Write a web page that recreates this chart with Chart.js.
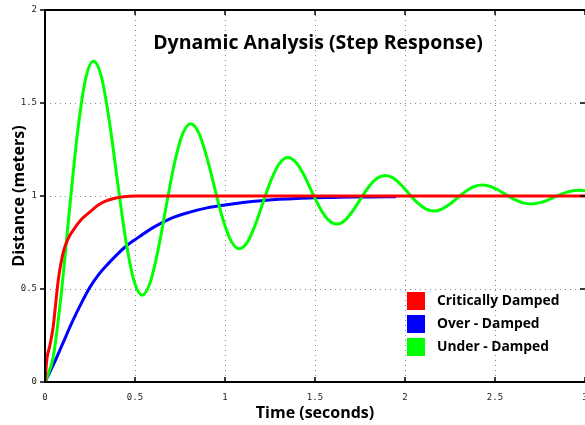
<!DOCTYPE html>
<html>
<head>
<meta charset="utf-8">
<script src="https://cdn.jsdelivr.net/npm/chart.js@4.4.0/dist/chart.umd.min.js"></script>
<style>
  html, body { margin: 0; padding: 0; background: #fff; overflow: hidden; }
  #wrap { width: 585px; height: 425px; position: relative; }
</style>
</head>
<body>
<div id="wrap"><canvas id="chart"></canvas></div>
<script>
const chartTitle = 'Dynamic Analysis (Step Response)'
const xTitle = 'Time (seconds)'
const yTitle = 'Distance (meters)'
const seriesNames = ['Critically Damped', 'Over - Damped', 'Under - Damped']
const seriesColors = ['#ff0000', '#0000ff', '#00ff00']
const xTicks = [0, 0.5, 1, 1.5, 2, 2.5, 3]
const yTicks = [0, 0.5, 1, 1.5, 2]

// critically damped
const critT = [0, 0.01, 0.028, 0.046, 0.055, 0.074, 0.102, 0.13, 0.157, 0.204, 0.25, 0.296, 0.343, 0.389, 0.435, 0.5, 3]
const critY = [0, 0.12, 0.2, 0.3, 0.38, 0.55, 0.7, 0.774, 0.817, 0.876, 0.915, 0.952, 0.975, 0.988, 0.996, 1.0, 1.0]

// over damped
const overT = [0, 0.05, 0.1, 0.15, 0.2, 0.25, 0.3, 0.35, 0.4, 0.45, 0.5, 0.6, 0.7, 0.8, 0.9, 1.0, 1.1, 1.2, 1.3, 1.4, 1.5, 1.6, 1.7, 1.8, 1.95]
const overY = [0, 0.1, 0.21, 0.32, 0.42, 0.51, 0.58, 0.635, 0.685, 0.73, 0.765, 0.83, 0.88, 0.912, 0.936, 0.952, 0.965, 0.975, 0.982, 0.987, 0.99, 0.992, 0.994, 0.995, 0.996]

// under damped
const underT = [0, 0.045, 0.09, 0.135, 0.18, 0.225, 0.27, 0.315, 0.36, 0.405, 0.45, 0.495,
  0.54, 0.585, 0.63, 0.675, 0.72, 0.765, 0.81, 0.855, 0.9, 0.945, 0.99, 1.035,
  1.08, 1.125, 1.17, 1.215, 1.26, 1.305, 1.35, 1.395, 1.44, 1.485, 1.53, 1.575,
  1.62, 1.665, 1.71, 1.755, 1.8, 1.845, 1.89, 1.935, 1.98, 2.025, 2.07, 2.115,
  2.16, 2.205, 2.25, 2.295, 2.34, 2.385, 2.43, 2.475, 2.52, 2.565, 2.61, 2.655,
  2.7, 2.745, 2.79, 2.835, 2.88, 2.925, 2.97, 3.015]
const underY = [0, 0.131, 0.472, 0.915, 1.335, 1.628, 1.725, 1.635, 1.386, 1.062, 0.755, 0.542,
  0.467, 0.537, 0.719, 0.954, 1.179, 1.335, 1.389, 1.338, 1.205, 1.033, 0.870, 0.756,
  0.716, 0.753, 0.850, 0.976, 1.095, 1.178, 1.207, 1.180, 1.110, 1.018, 0.931, 0.870,
  0.849, 0.868, 0.920, 0.987, 1.051, 1.095, 1.110, 1.096, 1.058, 1.009, 0.963, 0.931,
  0.919, 0.930, 0.957, 0.993, 1.027, 1.051, 1.059, 1.051, 1.031, 1.005, 0.980, 0.963,
  0.957, 0.963, 0.977, 0.996, 1.014, 1.027, 1.031, 1.027]

const pts = (ts, ys) => ts.map((t, i) => ({ x: t, y: ys[i] }))
const line = (label, data, color, order) => ({
  label, data, borderColor: color, backgroundColor: color, borderWidth: 3,
  pointRadius: 0, cubicInterpolationMode: 'monotone', order
})

const frame = {
  id: 'frame',
  afterDatasetsDraw(chart) {
    const { ctx, chartArea: a, scales } = chart
    ctx.save()
    ctx.strokeStyle = '#000'
    ctx.lineWidth = 2
    ctx.beginPath()
    ctx.moveTo(a.left, a.top); ctx.lineTo(a.right + 2, a.top)
    ctx.moveTo(a.left, a.top - 1); ctx.lineTo(a.left, a.bottom + 1)
    ctx.moveTo(a.left - 1, a.bottom); ctx.lineTo(a.right + 2, a.bottom)
    ctx.stroke()
    ctx.lineWidth = 1.5
    ctx.beginPath()
    xTicks.forEach(v => {
      const px = scales.x.getPixelForValue(v)
      ctx.moveTo(px, a.bottom); ctx.lineTo(px, a.bottom - 5)
      ctx.moveTo(px, a.top); ctx.lineTo(px, a.top + 5)
    })
    yTicks.forEach(v => {
      const py = scales.y.getPixelForValue(v)
      ctx.moveTo(a.left - 5, py); ctx.lineTo(a.left, py)
      ctx.moveTo(a.right - 5, py); ctx.lineTo(a.right, py)
    })
    ctx.stroke()

    // title
    ctx.fillStyle = '#000'
    ctx.font = 'bold 19.5px "Open Sans"'
    ctx.textAlign = 'center'
    ctx.textBaseline = 'alphabetic'
    ctx.fillText(chartTitle, 318, 49)

    // legend
    ctx.font = 'bold 13.8px "Open Sans"'
    ctx.textAlign = 'left'
    ctx.textBaseline = 'middle'
    seriesNames.forEach((name, i) => {
      const y = 292 + i * 23
      ctx.fillStyle = seriesColors[i]
      ctx.fillRect(407, y, 18, 18)
      ctx.fillStyle = '#000'
      ctx.fillText(name, 437, y + 9)
    })
    ctx.restore()
  }
}

new Chart(document.getElementById('chart'), {
  type: 'line',
  data: {
    datasets: [
      line(seriesNames[0], pts(critT, critY), seriesColors[0], 0),
      line(seriesNames[1], pts(overT, overY), seriesColors[1], 2),
      line(seriesNames[2], pts(underT, underY), seriesColors[2], 1)
    ]
  },
  options: {
    responsive: true,
    maintainAspectRatio: false,
    animation: false,
    layout: { padding: { top: 10, right: 0, left: 0, bottom: 0 } },
    plugins: { legend: { display: false }, tooltip: { enabled: false } },
    scales: {
      x: {
        type: 'linear', min: 0, max: 3,
        afterBuildTicks: s => { s.ticks = xTicks.map(v => ({ value: v })) },
        afterFit: s => { s.height = 43; s.paddingRight = 0; s.paddingLeft = 0 },
        grid: { color: '#8a8a8a', lineWidth: 1, drawTicks: false },
        border: { display: false, dash: [1, 4] },
        ticks: { color: '#222', font: { family: 'DejaVu Sans Mono', size: 9 }, padding: 10, maxRotation: 0, callback: v => String(v) },
        title: { display: true, text: xTitle, color: '#000', font: { family: 'Open Sans', size: 16, weight: 'bold' }, padding: { top: 0, bottom: 2 } }
      },
      y: {
        type: 'linear', min: 0, max: 2,
        afterBuildTicks: s => { s.ticks = yTicks.map(v => ({ value: v })) },
        afterFit: s => { s.width = 45; s.paddingTop = 0; s.paddingBottom = 0 },
        grid: { color: '#8a8a8a', lineWidth: 1, drawTicks: false },
        border: { display: false, dash: [1, 4] },
        ticks: { color: '#222', font: { family: 'DejaVu Sans Mono', size: 9 }, padding: 8, callback: v => String(v) },
        title: { display: true, text: yTitle, color: '#000', font: { family: 'Open Sans', size: 16, weight: 'bold' }, padding: { top: 10, bottom: 0 } }
      }
    }
  },
  plugins: [frame]
})
</script>
</body>
</html>
